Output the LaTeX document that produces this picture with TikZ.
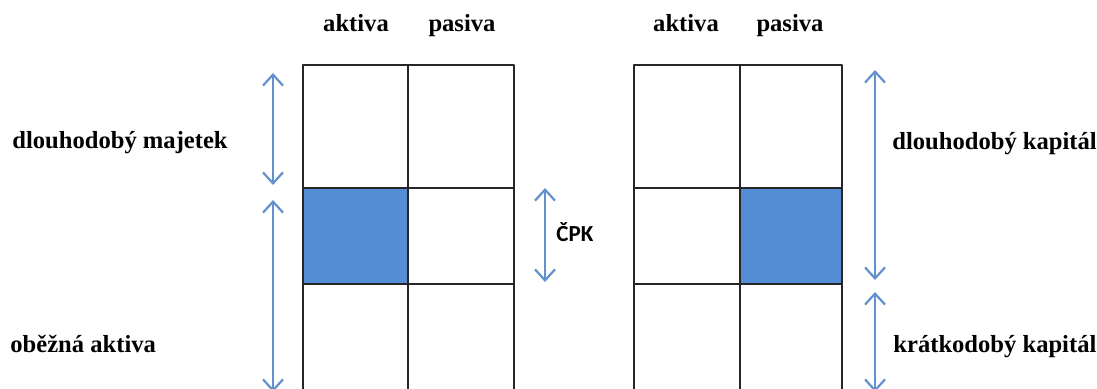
\documentclass[tikz,border=0pt]{standalone}
\usepackage{fontspec}
\setmainfont{Liberation Serif}
\newfontfamily\cpkfont{Carlito}
\usetikzlibrary{arrows.meta}
\definecolor{cellblue}{RGB}{84,141,212}
\definecolor{arrowblue}{RGB}{98,146,206}
\tikzset{
  gridline/.style={draw=black!85, line width=0.75pt},
  dim/.style={arrowblue, line width=1.1pt, {Straight Barb[length=5.5pt,width=10pt]}-{Straight Barb[length=5.5pt,width=10pt]}},
  lbl/.style={font=\fontsize{12.3}{14}\selectfont\bfseries, inner sep=0pt},
}
\begin{document}
\begin{tikzpicture}[x=0.5pt, y=-0.5pt, line join=round, line cap=round]
  \useasboundingbox (0,0) rectangle (1097,389);
  % blue cells
  \fill[cellblue] (303,188) rectangle (408,284);
  \fill[cellblue] (740,188) rectangle (842,284);
  % two balance sheets
  \foreach \l/\m/\r in {303/408/514, 634/740/842}{
    \draw[gridline] (\l,400) -- (\l,65) -- (\r,65) -- (\r,400);
    \draw[gridline] (\m,65) -- (\m,400);
    \draw[gridline] (\l,188) -- (\r,188) (\l,284) -- (\r,284);
  }
  % headers
  \node[lbl, anchor=base] (akt1) at (356,32) {aktiva};
  \node[lbl, anchor=base] (pas1) at (462,32) {pasiva};
  \node[lbl, anchor=base] (akt2) at (686,32) {aktiva};
  \node[lbl, anchor=base] (pas2) at (790,32) {pasiva};
  % side labels
  \node[lbl, anchor=base west] (dm) at (12,149) {dlouhodobý majetek};
  \node[lbl, anchor=base west] (oa) at (10,353) {oběžná aktiva};
  \node[lbl, anchor=base west] (dk) at (892,150) {dlouhodobý kapitál};
  \node[lbl, anchor=base west] (kk) at (893,353) {krátkodobý kapitál};
  \node[inner sep=0pt, anchor=base west, font=\cpkfont\fontsize{11.5}{13}\selectfont\bfseries] (cpk) at (556,242) {ČPK};
  % arrow ends
  \coordinate (dm-t) at (273,73);
  \coordinate (dm-b) at (273,185);
  \coordinate (oa-t) at (273,200);
  \coordinate (oa-b) at (273,392);
  \coordinate (cpk-t) at (545,188);
  \coordinate (cpk-b) at (545,282);
  \coordinate (dk-t) at (875,70);
  \coordinate (dk-b) at (875,280);
  \coordinate (kk-t) at (875,292);
  \coordinate (kk-b) at (875,392);
  \draw[dim] (dm-t) -- (dm-b);
  \draw[dim] (oa-t) -- (oa-b);
  \draw[dim] (cpk-t) -- (cpk-b);
  \draw[dim] (dk-t) -- (dk-b);
  \draw[dim] (kk-t) -- (kk-b);
\end{tikzpicture}
\end{document}
